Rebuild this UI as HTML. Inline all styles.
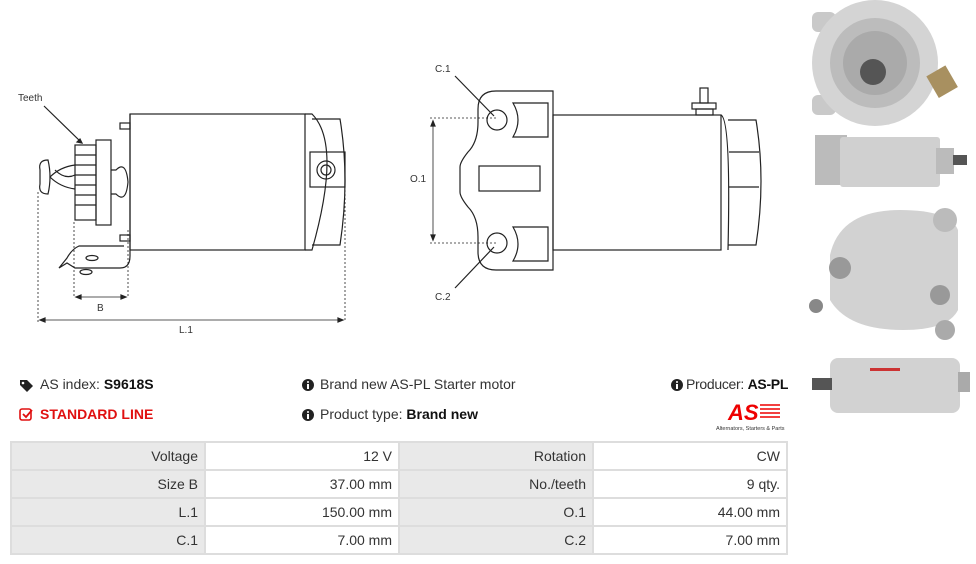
<!DOCTYPE html>
<html><head><meta charset="utf-8"><style>
body{margin:0;width:976px;height:564px;background:#fff;font-family:"Liberation Sans",sans-serif;position:relative;overflow:hidden}
.t{position:absolute;font-size:14px;color:#333;white-space:nowrap}
table{position:absolute;left:10px;top:441px;border-collapse:collapse;font-size:14px;color:#333}
td{border:2px solid #ddd;height:26px;padding:0 6px;text-align:right}
td.l{background:#e9e9e9;width:180px}
td.v{background:#fff;width:180px}
</style></head><body>
<svg width="976" height="564" style="position:absolute;left:0;top:0" fill="none" stroke="#222" stroke-width="1.2" font-family="Liberation Sans" font-size="10">
<text x="18" y="101" fill="#333" stroke="none">Teeth</text>
<line x1="44" y1="106" x2="82" y2="143"/>
<path d="M82,143 l-5,-1 l3,-3z" fill="#222"/>
<rect x="130" y="114" width="175" height="136"/>
<path d="M305,114 h7 q30,30 0,136 h-7"/>
<path d="M312,119 h28 q10,60 0,126 h-28"/>
<rect x="310" y="152" width="35" height="35"/>
<circle cx="326" cy="170" r="9"/><circle cx="326" cy="170" r="5"/>
<path d="M130,114 v142 q0,12 -10,12 h-45 l-8,-5 l-8,5 l8,-10 q5,-9 12,-12 h45"/>
<rect x="120" y="123" width="10" height="6"/><rect x="120" y="235" width="10" height="6"/>
<rect x="96" y="140" width="15" height="85"/>
<rect x="75" y="145" width="21" height="75"/>
<path d="M75,155 h21 M75,165 h21 M75,175 h21 M75,185 h21 M75,195 h21 M75,205 h21"/>
<path d="M111,170 h5 q10,-10 12,12 q-2,22 -12,12 h-5"/>
<path d="M75,165 q-15,2 -25,12 q10,10 25,12 M55,170 q10,10 20,5"/>
<path d="M48,160 q-10,0 -8,10 v14 q-2,10 8,10 q4,-17 0,-34z"/>
<ellipse cx="92" cy="258" rx="6" ry="2.5"/><ellipse cx="86" cy="272" rx="6" ry="2.5"/>
<g stroke-dasharray="2,2" stroke-width="0.8"><line x1="38" y1="192" x2="38" y2="322"/><line x1="345" y1="190" x2="345" y2="322"/><line x1="74" y1="222" x2="74" y2="298"/><line x1="128" y1="230" x2="128" y2="298"/></g>
<line x1="40" y1="320" x2="343" y2="320" stroke-width="0.8"/><path d="M40,320 l5,-2 v4z M343,320 l-5,-2 v4z" fill="#222"/>
<line x1="76" y1="297" x2="126" y2="297" stroke-width="0.8"/><path d="M76,297 l5,-2 v4z M126,297 l-5,-2 v4z" fill="#222"/>
<text x="97" y="311" fill="#333" stroke="none">B</text>
<text x="179" y="333" fill="#333" stroke="none">L.1</text>
<text x="435" y="72" fill="#333" stroke="none">C.1</text>
<text x="435" y="300" fill="#333" stroke="none">C.2</text>
<text x="410" y="182" fill="#333" stroke="none">O.1</text>
<line x1="455" y1="76" x2="494" y2="116"/><line x1="455" y1="288" x2="494" y2="247"/>
<path d="M553,91 v179 h-57 q-18,0 -18,-18 v-15 q0,-20 -10,-30 q-8,-10 -8,-15 v-25 q0,-5 8,-15 q10,-10 10,-30 v-13 q0,-18 18,-18z"/>
<circle cx="497" cy="120" r="10"/><circle cx="497" cy="243" r="10"/>
<path d="M513,103 h35 v34 h-35 q10,-17 0,-34z M513,227 h35 v34 h-35 q10,-17 0,-34z"/>
<rect x="479" y="166" width="61" height="25"/>
<rect x="553" y="115" width="168" height="135"/>
<path d="M721,115 q10,5 7,135 M728,120 h28 q10,60 0,125 h-28 M729,152 h30 M729,187 h30"/>
<rect x="692" y="103" width="24" height="6"/><rect x="700" y="88" width="8" height="15"/><rect x="696" y="109" width="17" height="6"/>
<g stroke-dasharray="2,2" stroke-width="0.8"><line x1="430" y1="118" x2="497" y2="118"/><line x1="430" y1="243" x2="497" y2="243"/></g>
<line x1="433" y1="121" x2="433" y2="240" stroke-width="0.8"/><path d="M433,121 l-2,5 h4z M433,240 l-2,-5 h4z" fill="#222"/>
<g stroke="none">
<rect x="812" y="12" width="24" height="20" rx="6" fill="#c9c9c9"/><rect x="812" y="95" width="24" height="20" rx="6" fill="#c9c9c9"/>
<circle cx="875" cy="63" r="63" fill="#d4d4d4"/><circle cx="875" cy="63" r="45" fill="#bcbcbc"/><circle cx="875" cy="63" r="32" fill="#aaa"/>
<circle cx="873" cy="72" r="13" fill="#555"/><rect x="930" y="70" width="22" height="25" fill="#a89060" transform="rotate(-30 940 80)"/>
<rect x="815" y="135" width="32" height="50" fill="#bbb"/><rect x="840" y="137" width="100" height="50" rx="3" fill="#d0d0d0"/><rect x="936" y="148" width="18" height="26" fill="#bbb"/><rect x="953" y="155" width="14" height="10" fill="#555"/>
<path d="M830,255 q10,-45 70,-45 q50,0 58,20 v80 q-10,20 -55,20 q-55,0 -73,-30z" fill="#d2d2d2"/>
<circle cx="945" cy="220" r="12" fill="#bbb"/><circle cx="840" cy="268" r="11" fill="#999"/><circle cx="940" cy="295" r="10" fill="#999"/><circle cx="945" cy="330" r="10" fill="#aaa"/><circle cx="816" cy="306" r="7" fill="#888"/>
<rect x="830" y="358" width="130" height="55" rx="8" fill="#d2d2d2"/><rect x="812" y="378" width="20" height="12" fill="#555"/><rect x="958" y="372" width="12" height="20" fill="#aaa"/>
<rect x="870" y="368" width="30" height="3" fill="#c33"/>
</g>
<g stroke="none" fill="#222">
<path d="M20,380 h7 l6,6 l-6,6 l-7,-7z"/><circle cx="23" cy="383" r="1.3" fill="#fff"/>
<circle cx="308" cy="385" r="6"/><circle cx="308" cy="415" r="6"/><circle cx="677" cy="385" r="6"/>
<g fill="#fff"><rect x="307" y="384" width="2" height="5"/><circle cx="308" cy="382" r="1"/><rect x="307" y="414" width="2" height="5"/><circle cx="308" cy="412" r="1"/><rect x="676" y="384" width="2" height="5"/><circle cx="677" cy="382" r="1"/></g>
</g>
<rect x="20" y="409" width="11" height="11" rx="2" stroke="#e01010" stroke-width="1.6"/><path d="M23,414 l3,3 l6,-7" stroke="#e01010" stroke-width="1.8"/>
<text x="728" y="420" fill="#e00" stroke="none" font-size="22" font-weight="bold" font-style="italic">AS</text>
<g stroke="#e00" stroke-width="1.5"><line x1="760" y1="405" x2="780" y2="405"/><line x1="760" y1="409" x2="780" y2="409"/><line x1="760" y1="413" x2="780" y2="413"/><line x1="760" y1="417" x2="780" y2="417"/></g>
<text x="716" y="430" fill="#333" stroke="none" font-size="5.5">Alternators, Starters &amp; Parts</text>
</svg>
<div class="t" style="left:40px;top:376px">AS index: <b style="color:#111">S9618S</b></div>
<div class="t" style="left:40px;top:406px;color:#e01010;font-weight:bold">STANDARD LINE</div>
<div class="t" style="left:320px;top:376px">Brand new AS-PL Starter motor</div>
<div class="t" style="left:320px;top:406px">Product type: <b style="color:#111">Brand new</b></div>
<div class="t" style="left:686px;top:376px;letter-spacing:-0.3px">Producer: <b style="color:#111">AS-PL</b></div>
<table>
<tr><td class="l">Voltage</td><td class="v">12 V</td><td class="l">Rotation</td><td class="v">CW</td></tr>
<tr><td class="l">Size B</td><td class="v">37.00 mm</td><td class="l">No./teeth</td><td class="v">9 qty.</td></tr>
<tr><td class="l">L.1</td><td class="v">150.00 mm</td><td class="l">O.1</td><td class="v">44.00 mm</td></tr>
<tr><td class="l">C.1</td><td class="v">7.00 mm</td><td class="l">C.2</td><td class="v">7.00 mm</td></tr>
</table>
</body></html>
